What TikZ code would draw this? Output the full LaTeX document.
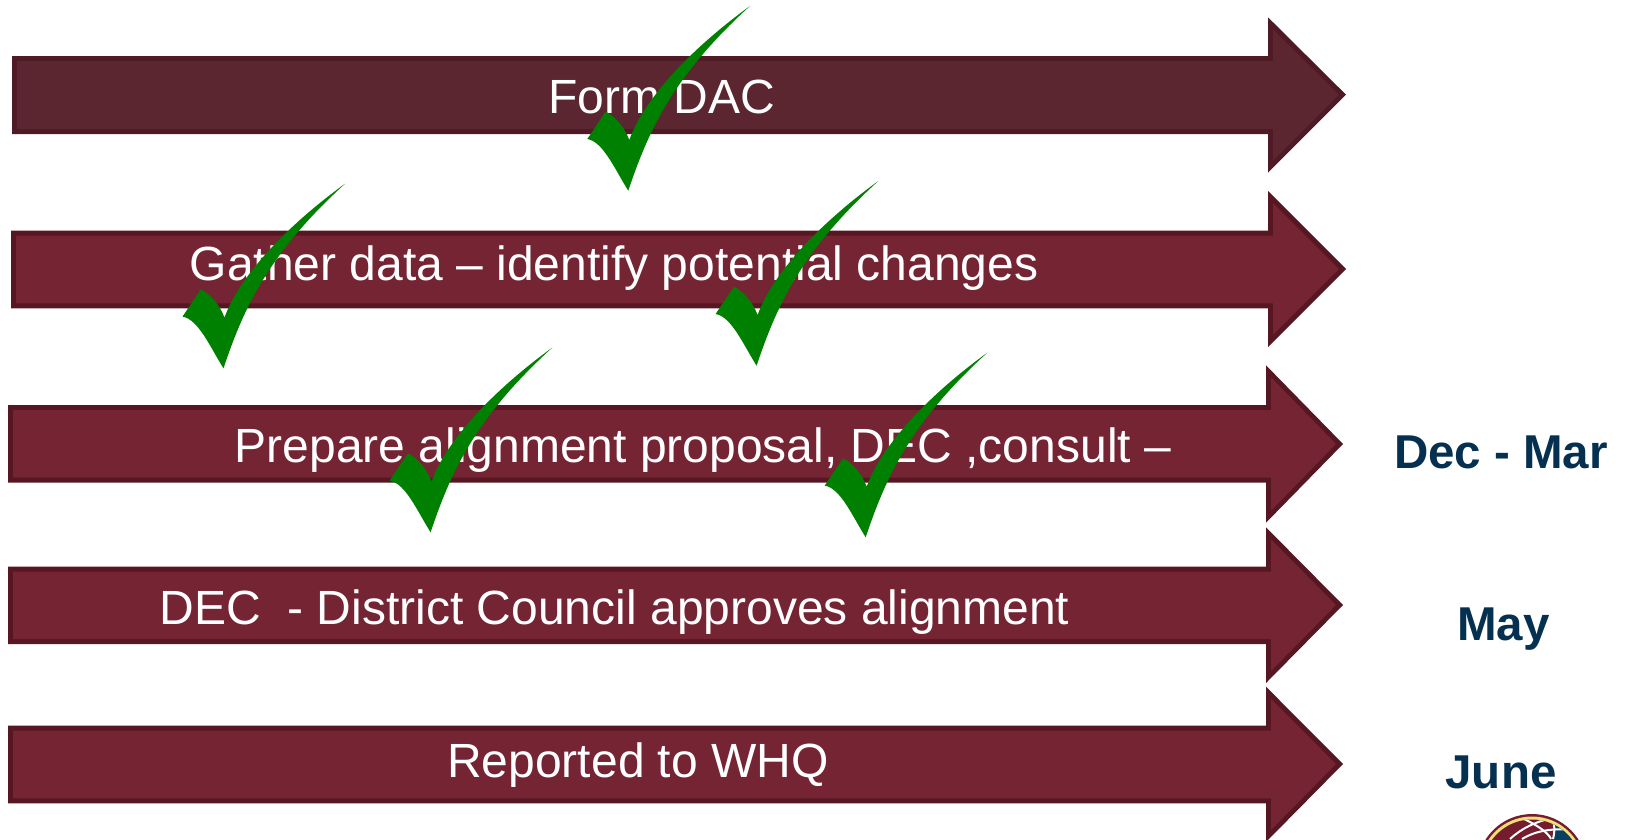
\documentclass[tikz,border=0pt]{standalone}
\usepackage{fontspec}
\setmainfont{Liberation Sans}
\definecolor{firstfill}{HTML}{5C2631}
\definecolor{firstedge}{HTML}{4E1A26}
\definecolor{barfill}{HTML}{752433}
\definecolor{baredge}{HTML}{561723}
\definecolor{datenavy}{HTML}{05304F}
\definecolor{tickgreen}{HTML}{008000}
\definecolor{logomaroon}{HTML}{751C2E}
\definecolor{logoyellow}{HTML}{F2DF74}
\definecolor{logonavy}{HTML}{0B3F5E}
% #1 left, #2 notch x, #3 tip x, #4 body top, #5 body bottom, #6 head top, #7 head bottom, #8 tip y, #9 colour prefix
\newcommand{\blockarrow}[9]{%
  \fill[#9edge] (#1,#4) -- (#2,#4) -- (#2,#6) -- (#3,#8) -- (#2,#7) -- (#2,#5) -- (#1,#5) -- cycle;
  \fill[#9fill] ({#1+5},{#4+5}) -- ({#2+5},{#4+5}) -- ({#2+5},{#6+12.07}) -- ({#3-7.07},#8)
     -- ({#2+5},{#7-12.07}) -- ({#2+5},{#5-5}) -- ({#1+5},{#5-5}) -- cycle;
}
\newcommand{\greentick}[2]{%
  \begin{scope}[shift={(#1,#2)}]
    \fill[tickgreen] (0,0)
      .. controls (20,-60) and (45,-115) .. (121.7,-184.7)
      .. controls (60,-140) and (15,-90) .. (1,-50.7)
      .. controls (-4,-64) and (-13,-74) .. (-22.6,-79)
      -- (-41,-51.7)
      .. controls (-25,-49) and (-13.3,-21) .. (0,0) -- cycle;
  \end{scope}%
}
\tikzset{
  x=1pt,y=-1pt,
  bartext/.style={text=white,font=\fontsize{48}{48}\selectfont,anchor=base,inner sep=0pt},
  datetext/.style={text=datenavy,font=\fontsize{47.5}{48}\selectfont\bfseries,anchor=base,inner sep=0pt},
  gridline/.style={white,line width=2pt}
}
\begin{document}
\begin{tikzpicture}
\useasboundingbox (0,0) rectangle (1625,839);
\clip (0,0) rectangle (1625,839);
\fill[white] (0,0) rectangle (1625,839);
\blockarrow{12}{1268}{1346}{56}{134}{17.3}{172.7}{94.7}{first}
\blockarrow{11}{1268}{1346}{230.5}{308.3}{191}{347}{269}{bar}
\blockarrow{8}{1266}{1343}{405}{482.7}{365.3}{522.7}{444}{bar}
\blockarrow{8}{1266}{1343}{566.7}{644}{527.3}{683}{605}{bar}
\blockarrow{8}{1266}{1343}{725.7}{803.3}{686.7}{842}{764}{bar}
\node[bartext] (form) at (661.5,113) {Form DAC};
\node[bartext] (gather) at (614,280) {Gather data – identify potential changes};
\node[bartext] (prepare) at (703,462.2) {Prepare alignment proposal, DEC ,consult –};
\node[bartext] (approve) at (614.5,624.2) {DEC \ - District Council approves alignment};
\node[bartext] (whq) at (638,777) {Reported to WHQ};
\node[datetext] (decmar) at (1501,468) {Dec - Mar};
\node[datetext] (may) at (1503.5,640) {May};
\node[datetext] (june) at (1501,788) {June};
\greentick{628.3}{190.7}
\greentick{223.5}{368.3}
\greentick{756.6}{365.7}
\greentick{430.6}{532.3}
\greentick{865.7}{537.3}
% logo
\fill[logomaroon] (1532,869) circle (55);
\fill[logoyellow] (1532,869) circle (52.5);
\fill[logomaroon] (1532,869) circle (49.5);
\begin{scope}
  \clip (1532,869) circle (49.5);
  \fill[logonavy] (1553,810) rectangle (1590,845);
  \draw[gridline] (1510,839) .. controls (1522,828) and (1535,822) .. (1552,818);
  \draw[gridline] (1522,839) .. controls (1535,831) and (1555,826) .. (1585,832);
  \draw[gridline] (1522,818) .. controls (1535,824) and (1548,832) .. (1551,839);
  \draw[gridline] (1552,818) .. controls (1555,825) and (1555,832) .. (1553,839);
\end{scope}
\end{tikzpicture}
\end{document}
